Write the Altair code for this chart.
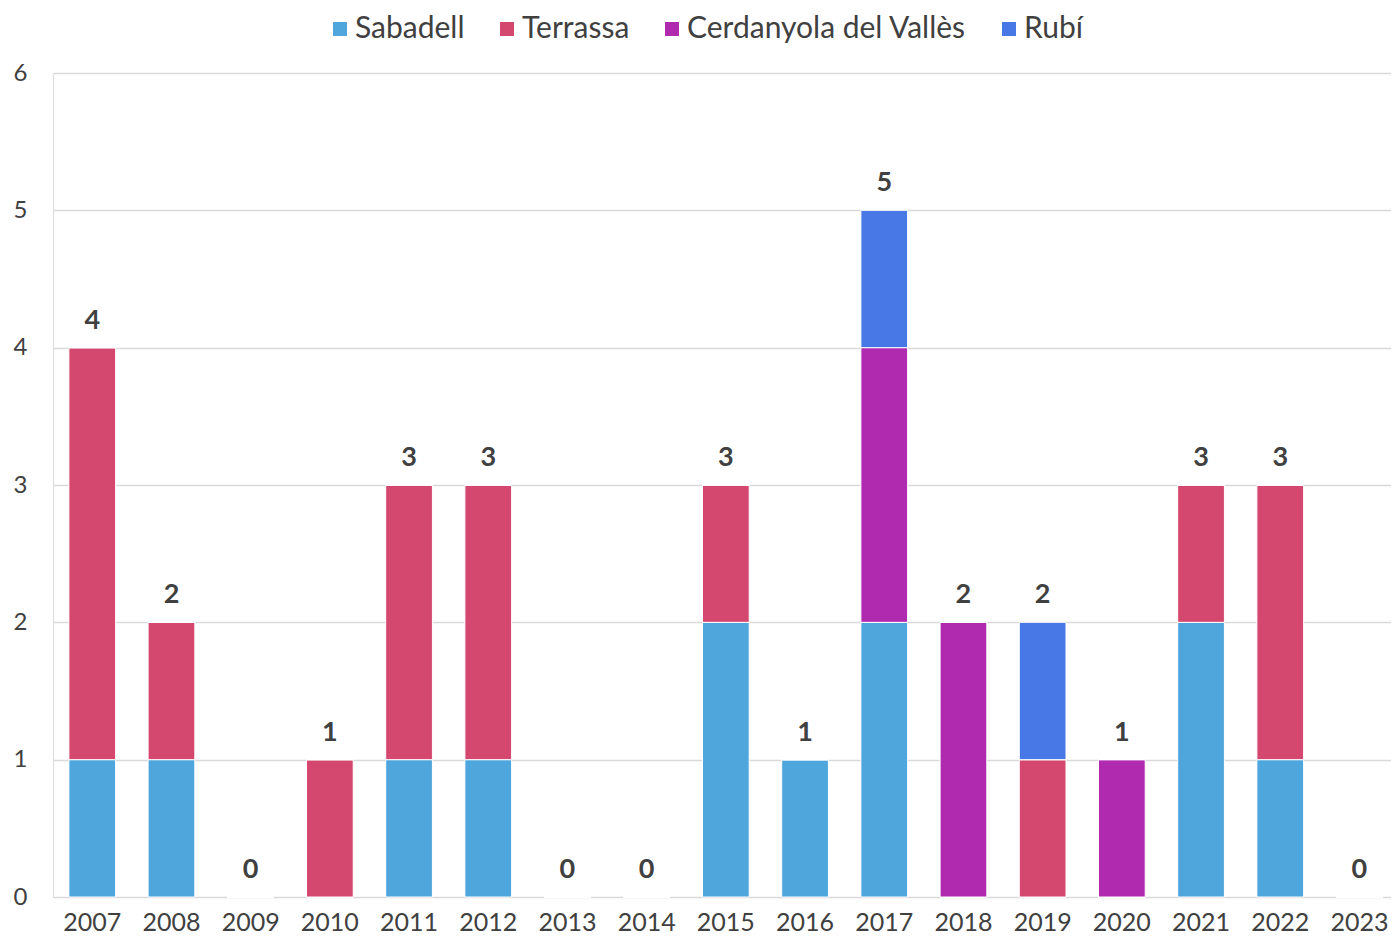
import altair as alt
import pandas as pd

years = ["2007", "2008", "2009", "2010", "2011", "2012", "2013", "2014", "2015",
         "2016", "2017", "2018", "2019", "2020", "2021", "2022", "2023"]
sabadell =   [1, 1, 0, 0, 1, 1, 0, 0, 2, 1, 2, 0, 0, 0, 2, 1, 0]
terrassa =   [3, 1, 0, 1, 2, 2, 0, 0, 1, 0, 0, 0, 1, 0, 1, 2, 0]
cerdanyola = [0, 0, 0, 0, 0, 0, 0, 0, 0, 0, 2, 2, 0, 1, 0, 0, 0]
rubi =       [0, 0, 0, 0, 0, 0, 0, 0, 0, 0, 1, 0, 1, 0, 0, 0, 0]

series_names = ["Sabadell", "Terrassa", "Cerdanyola del Vallès", "Rubí"]
series_vals = [sabadell, terrassa, cerdanyola, rubi]
colors = ["#4EA6DC", "#D4476F", "#B02AB0", "#4878E6"]

rows = []
for si, (name, vals) in enumerate(zip(series_names, series_vals)):
    for y, v in zip(years, vals):
        rows.append({"year": y, "city": name, "value": v, "ord": si})
df = pd.DataFrame(rows)
tot = pd.DataFrame({"year": years,
                    "total": [a + b + c + d for a, b, c, d in zip(sabadell, terrassa, cerdanyola, rubi)]})

FONT = "Lato"
xscale = alt.Scale(paddingInner=0.41, paddingOuter=0.152, align=0.66)
x = alt.X("year:O", sort=years, title=None, scale=xscale,
          axis=alt.Axis(labelAngle=0, labelFontSize=25, labelColor="#404040", labelFont=FONT,
                        ticks=False, domain=False, labelPadding=13))

bars = alt.Chart(df).mark_bar(stroke="white", strokeWidth=1).encode(
    x=x,
    y=alt.Y("value:Q", title=None,
            scale=alt.Scale(domain=[0, 6], nice=False),
            axis=alt.Axis(values=[0, 1, 2, 3, 4, 5, 6], format="d", labelFontSize=24,
                          labelColor="#404040", labelFont=FONT, ticks=False, domain=False,
                          labelPadding=26, grid=True, gridColor="#D9D9D9", gridWidth=1.5)),
    color=alt.Color("city:N", sort=series_names,
                    scale=alt.Scale(domain=series_names, range=colors),
                    legend=alt.Legend(title=None, orient="none", direction="horizontal",
                                      legendX=272, legendY=-59, symbolType="square",
                                      symbolSize=196, symbolStrokeWidth=0, labelFontSize=30,
                                      labelFont=FONT, labelColor="#404040", columnPadding=27,
                                      symbolOffset=0, labelOffset=0, labelLimit=400)),
    order=alt.Order("ord:Q", sort="ascending"),
)

labels = alt.Chart(tot).mark_text(fontSize=27, font=FONT, fontWeight="bold", color="#404040",
                                  baseline="alphabetic", dy=-19).encode(
    x=alt.X("year:O", sort=years, scale=xscale),
    y=alt.Y("total:Q"),
    text="total:Q",
)

chart = alt.layer(bars, labels).properties(
    width=1338, height=824,
    autosize=alt.AutoSizeParams(type="none"),
    padding={"left": 45, "top": 65, "right": 0, "bottom": 40},
).configure_view(stroke=None).configure(font=FONT)

chart.save("out.html", embed_options={"renderer": "svg", "actions": False})
